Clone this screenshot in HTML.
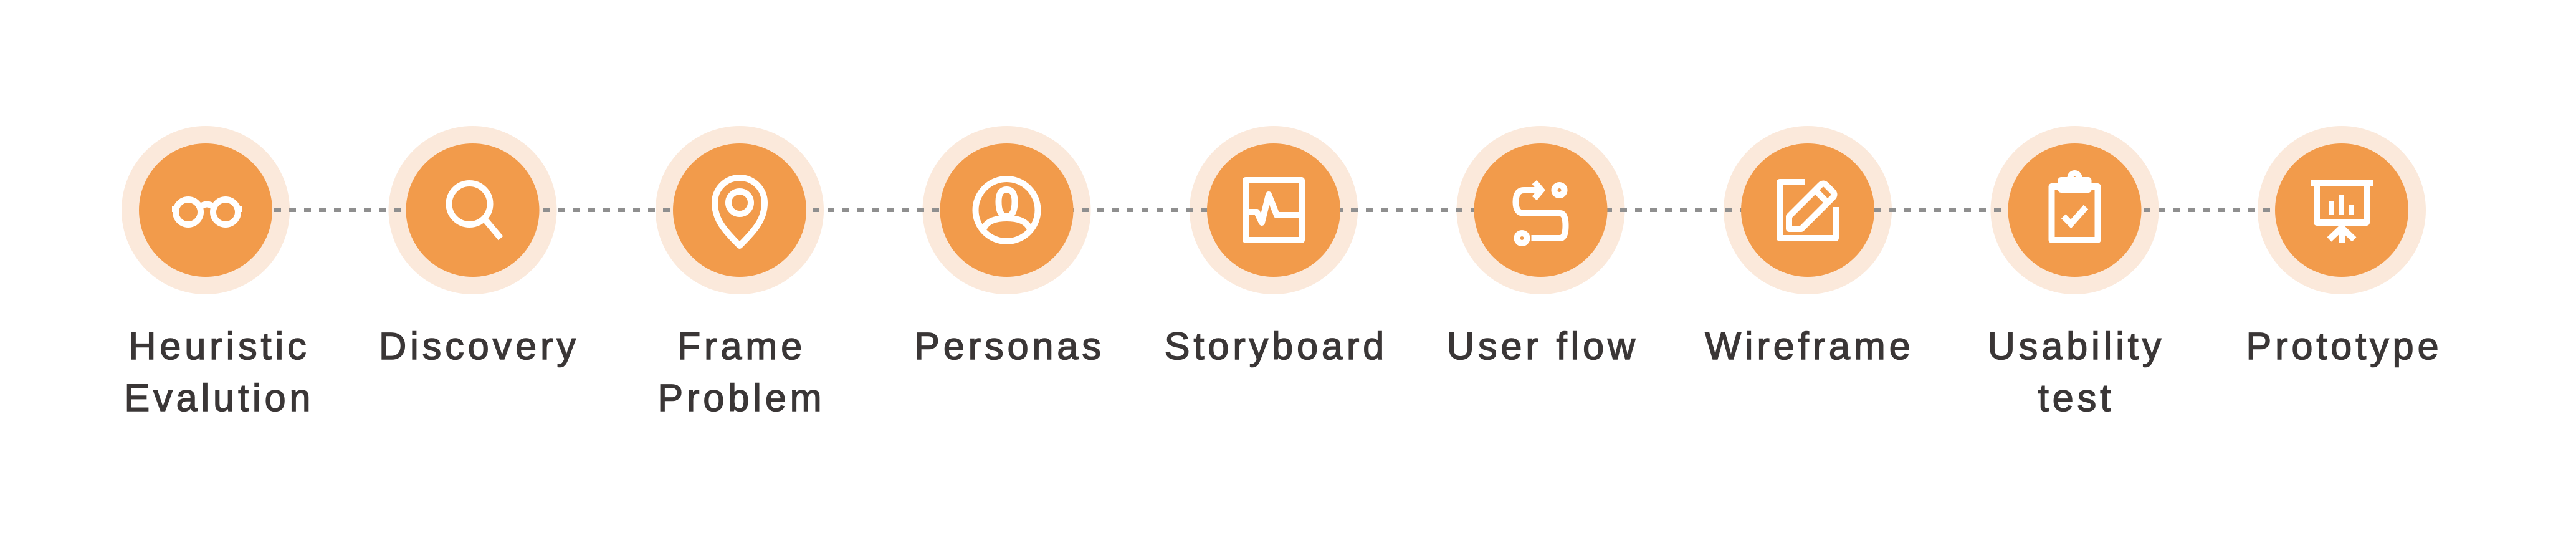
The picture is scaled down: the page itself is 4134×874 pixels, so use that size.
<!DOCTYPE html>
<html><head><meta charset="utf-8"><style>
html,body{margin:0;padding:0;background:#fff;}
svg{display:block;}
text{font-family:"Liberation Sans",sans-serif;font-size:61px;fill:#3a3636;stroke:#3a3636;stroke-width:1.6px;letter-spacing:6px;text-anchor:middle;}
</style></head><body>
<svg width="4134" height="874" viewBox="0 0 4134 874" xmlns="http://www.w3.org/2000/svg">
<g fill="#fbe9db">
<circle cx="330" cy="337" r="135"/><circle cx="758.5" cy="337" r="135"/><circle cx="1187" cy="337" r="135"/><circle cx="1615.5" cy="337" r="135"/><circle cx="2044" cy="337" r="135"/><circle cx="2472.5" cy="337" r="135"/><circle cx="2901" cy="337" r="135"/><circle cx="3329.5" cy="337" r="135"/><circle cx="3758" cy="337" r="135"/>
</g>
<line x1="440" y1="337" x2="3650" y2="337" stroke="#8f8f8f" stroke-width="6" stroke-dasharray="11 13"/>
<g fill="#f29b4b">
<circle cx="330" cy="337" r="107"/><circle cx="758.5" cy="337" r="107"/><circle cx="1187" cy="337" r="107"/><circle cx="1615.5" cy="337" r="107"/><circle cx="2044" cy="337" r="107"/><circle cx="2472.5" cy="337" r="107"/><circle cx="2901" cy="337" r="107"/><circle cx="3329.5" cy="337" r="107"/><circle cx="3758" cy="337" r="107"/>
</g>
<g fill="none" stroke="#fff" stroke-width="10" stroke-linejoin="round">
<g transform="translate(330,337)">
<circle cx="-28" cy="3" r="20"/><circle cx="32" cy="3" r="20"/>
<path d="M-9 -5 Q2 -14 13 -5"/><path d="M-48 -2 L-54 -2"/><path d="M52 -2 L58 -2"/>
</g>
<g transform="translate(758.5,337)">
<circle cx="-5" cy="-10" r="33"/><line x1="19" y1="14" x2="45" y2="45"/>
</g>
<g transform="translate(1187,337)">
<path d="M0 57 C-25 32 -40 15 -40 -12 A40 40 0 0 1 40 -12 C40 15 25 32 0 57 Z"/>
<circle cx="0" cy="-12" r="18"/>
</g>
<g transform="translate(1615.5,337)">
<circle cx="0" cy="0" r="50"/>
<path d="M-13 -14 Q-13 -33 0 -33 Q13 -33 13 -14 Q13 10 0 10 Q-13 10 -13 -14 Z"/>
<path d="M-37 30 Q-30 13 0 13 Q30 13 37 30"/>
</g>
<g transform="translate(2044,337)">
<rect x="-45" y="-48" width="90" height="96"/>
<path d="M-45 3 L-27 3 L-19 20 L-8 -25 L5 8 L45 8" />
</g>
<g transform="translate(2472.5,337)">
<path d="M-5 -32 L-27 -32 Q-40 -32 -40 -13 Q-40 5 -27 5 L31 5 Q40 5 40 25 Q40 45 31 45 L-15 45"/>
<path d="M-10 -45 L1 -32 L-10 -19" stroke-linejoin="miter"/>
<circle cx="30" cy="-32" r="8"/>
<circle cx="-30" cy="45" r="8"/>
</g>
<g transform="translate(2901,337)">
<path d="M-5 -45 L-45 -45 L-45 45 L45 45 L45 -5"/>
<path d="M-30 30 L-30 10 L20 -40 Q25 -45 30 -40 L40 -30 Q45 -25 40 -20 L-10 30 Z"/>
<line x1="12" y1="-32" x2="32" y2="-12"/>
</g>
<g transform="translate(3329.5,337)">
<rect x="-37" y="-38" width="74" height="86"/>
<path d="M-22 -48 L22 -48 L22 -33 L-22 -33 Z"/>
<circle cx="0" cy="-52" r="7"/>
<path d="M-18 10 L-6 22 L18 -5" stroke-linejoin="miter"/>
</g>
<g transform="translate(3758,337)">
<line x1="-50" y1="-43" x2="50" y2="-43"/>
<rect x="-40" y="-43" width="80" height="63"/>
<line x1="0" y1="20" x2="0" y2="52"/>
<path d="M-20 47 L0 28 L20 47"/>
<g stroke-width="8"><line x1="-16" y1="-15" x2="-16" y2="7"/><line x1="0" y1="-25" x2="0" y2="7"/><line x1="15" y1="-9" x2="15" y2="7"/></g>
</g>
</g>
<g>
<text x="352" y="576">Heuristic</text><text x="352" y="659">Evalution</text>
<text x="769" y="576">Discovery</text>
<text x="1190" y="576">Frame</text><text x="1190" y="659">Problem</text>
<text x="1620" y="576">Personas</text>
<text x="2048" y="576">Storyboard</text>
<text x="2476" y="576">User flow</text>
<text x="2904" y="576">Wireframe</text>
<text x="3332" y="576">Usability</text><text x="3332" y="659">test</text>
<text x="3762" y="576">Prototype</text>
</g>
</svg>
</body></html>
